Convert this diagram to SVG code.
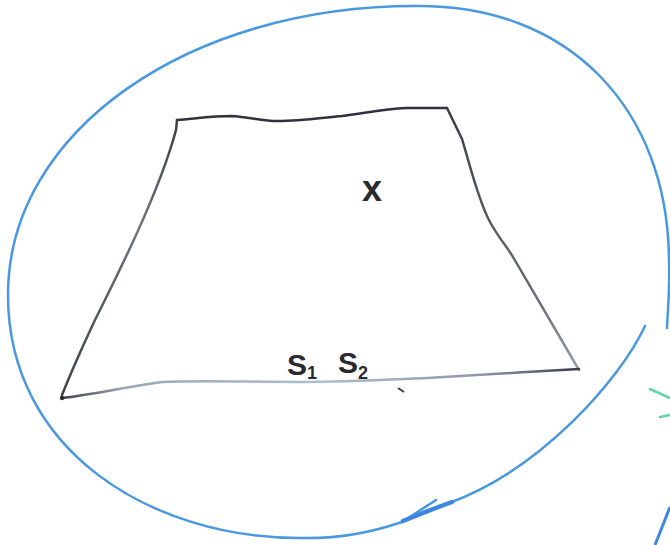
<svg xmlns="http://www.w3.org/2000/svg" width="670" height="545" viewBox="0 0 670 545">
<defs>
<linearGradient id="bot" gradientUnits="userSpaceOnUse" x1="62" y1="0" x2="579" y2="0">
<stop offset="0" stop-color="#3a3d44"/>
<stop offset="0.12" stop-color="#9aa6b4"/>
<stop offset="0.5" stop-color="#a9bfd2"/>
<stop offset="0.82" stop-color="#8c97a6"/>
<stop offset="1" stop-color="#3a3d44"/>
</linearGradient>
<linearGradient id="lft" gradientUnits="userSpaceOnUse" x1="0" y1="120" x2="0" y2="398">
<stop offset="0" stop-color="#3a3d44"/>
<stop offset="0.4" stop-color="#70747e"/>
<stop offset="1" stop-color="#3a3d44"/>
</linearGradient>
<linearGradient id="rgt" gradientUnits="userSpaceOnUse" x1="0" y1="108" x2="0" y2="370">
<stop offset="0" stop-color="#3a3d44"/>
<stop offset="0.75" stop-color="#6a6e78"/>
<stop offset="1" stop-color="#9a9ea6"/>
</linearGradient>
</defs>
<style>
.ell{fill:none;stroke:#4a98e0;stroke-width:2.5;stroke-linecap:round;stroke-linejoin:round}
.trap{fill:none;stroke-width:2.5;stroke-linecap:round;stroke-linejoin:round}
.lbl{font-family:"Liberation Sans",Arial,sans-serif;fill:#2a2b30;font-weight:bold}
.grn{fill:none;stroke:#5fd6a4;stroke-width:2.5;stroke-linecap:round}
</style>
<rect width="670" height="545" fill="#ffffff"/>
<g id="ellipse">
<path class="ell" d="M436,500 L402,522 C370,533 335,539 300,538 C150,538 8,450 8,295 C8,130 190,6 415,6 C570,4 668,110 669,260 C670,290 668,305 667,328"/>
<path class="ell" d="M645,326 C620,380 540,470 449,503 C430,510 415,516 402,522"/>
<path d="M403,521 C420,514 435,508 452,502" fill="none" stroke="#3f86e0" stroke-width="4.5" stroke-linecap="round"/>
<path d="M655,545 L670,507" fill="none" stroke="#3f86e0" stroke-width="3"/>
</g>
<g id="marks">
<path class="grn" d="M650,389 L670,398"/>
<path class="grn" d="M660,417 L670,415"/>
</g>
<g id="trapezoid">
<path class="trap" stroke="#2f3238" stroke-width="3" d="M177,120 C200,118 215,116 231,116 C250,117 262,121 278,121 C300,121 320,118 342,116 C365,113 385,109 406,108 L447,108"/>
<path class="trap" stroke="url(#rgt)" d="M447,108 L462,139 C470,165 478,200 490,222 C500,240 508,248 513,257 L579,370"/>
<path class="trap" stroke="url(#lft)" d="M177,120 L176,130 C160,190 120,270 95,320 C80,352 70,375 62,395"/>
<path class="trap" stroke="url(#bot)" d="M579,369 C530,372 470,375 427,378 C380,380 340,382 299,382 C250,382 200,380 162,382 C120,388 90,395 62,398"/>
<circle cx="62" cy="398" r="2.2" fill="#2a2b30"/>
<path fill="none" stroke="#3a3d44" stroke-width="2" d="M398,388 L404,392"/>
</g>
<g id="labels">
<text class="lbl" x="372" y="201" font-size="36" text-anchor="middle">x</text>
<text class="lbl" x="287" y="375" font-size="30">S<tspan font-size="18" dy="4">1</tspan></text>
<text class="lbl" x="338" y="373" font-size="30">S<tspan font-size="18" dy="6">2</tspan></text>
</g>
</svg>
